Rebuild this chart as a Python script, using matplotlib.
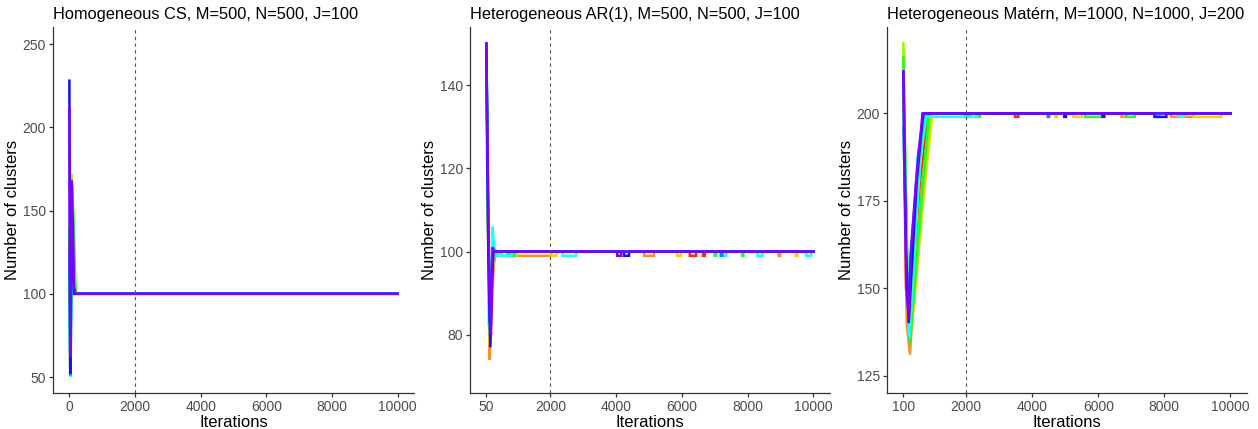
import matplotlib
matplotlib.use("Agg")
import matplotlib.pyplot as plt

plt.rcParams["font.family"] = ["Liberation Sans", "DejaVu Sans"]

# rainbow palette, first chain drawn first, purple last (on top)
CHAIN_COLORS = ["#FF2A00", "#FF9020", "#FFD000", "#90FF00", "#20FF20",
                "#00FF99", "#20FFFF", "#0090FF", "#1010FF", "#8000FF"]

TITLES = ["Homogeneous CS, M=500, N=500, J=100",
          "Heterogeneous AR(1), M=500, N=500, J=100",
          "Heterogeneous Matérn, M=1000, N=1000, J=200"]

LAST_ITER = 10000
BURN_IN = 2000
TARGETS = [100, 100, 200]

X_TICKS = [[0, 2000, 4000, 6000, 8000, 10000],
           [50, 2000, 4000, 6000, 8000, 10000],
           [100, 2000, 4000, 6000, 8000, 10000]]
Y_TICKS = [[50, 100, 150, 200, 250],
           [80, 100, 120, 140],
           [125, 150, 175, 200]]
X_LIMS = [(-500, 10500), (-447, 10497), (-395, 10495)]
Y_LIMS = [(40.4, 260.2), (66, 154), (120, 224.7)]

# burn-in traces (iteration, number of clusters), one list per chain
CS_BURN = [
    [(0, 130), (30, 60), (60, 140), (90, 110), (130, 102), (170, 100)],
    [(0, 95), (25, 55), (55, 125), (100, 108), (160, 100)],
    [(0, 120), (30, 52), (70, 150), (110, 104), (180, 100)],
    [(0, 105), (35, 58), (75, 172), (120, 130), (150, 115), (200, 100)],
    [(0, 140), (30, 62), (80, 165), (130, 145), (190, 100)],
    [(0, 115), (25, 57), (65, 158), (110, 120), (170, 100)],
    [(0, 90), (30, 50), (80, 135), (120, 115), (170, 100)],
    [(0, 125), (35, 51), (75, 120), (110, 105), (160, 100)],
    [(0, 228), (25, 52), (60, 160), (100, 120), (150, 100)],
    [(0, 211), (30, 62), (70, 168), (110, 140), (140, 104), (190, 100)],
]
CS_DIPS = [[], [], [], [], [], [], [], [], [], []]

AR_BURN = [
    [(50, 150), (90, 118), (130, 88), (170, 80), (230, 96), (300, 100)],
    [(50, 150), (100, 112), (150, 74), (200, 84), (280, 97), (350, 100)],
    [(50, 150), (90, 120), (140, 78), (200, 90), (290, 99), (340, 100)],
    [(50, 150), (80, 125), (130, 82), (190, 95), (260, 101), (330, 100)],
    [(50, 137), (100, 105), (150, 86), (210, 98), (290, 101), (350, 100)],
    [(50, 150), (110, 108), (160, 80), (230, 99), (300, 100)],
    [(50, 150), (90, 130), (140, 92), (190, 85), (240, 106), (300, 100)],
    [(50, 150), (100, 110), (150, 83), (200, 96), (260, 100)],
    [(50, 150), (110, 100), (170, 77), (220, 92), (270, 100)],
    [(50, 150), (100, 115), (150, 88), (190, 80), (240, 101), (290, 100)],
]
# intervals where a chain sits one cluster below the target
AR_DIPS = [
    [(6240, 6430), (6640, 6700)],
    [(400, 2030), (4850, 5150), (8940, 8990)],
    [(2030, 2180), (5850, 5970), (9460, 9510)],
    [(820, 970)],
    [(700, 900), (7000, 7040), (7830, 7870)],
    [(500, 760)],
    [(390, 820), (2370, 2790), (7200, 7350), (8300, 8450), (9780, 9930)],
    [(7180, 7230)],
    [(4240, 4390)],
    [(4030, 4150)],
]

MATERN_BURN = [
    [(100, 205), (180, 150), (280, 138), (330, 145), (600, 180), (850, 200)],
    [(100, 210), (200, 140), (300, 131), (360, 140), (650, 178), (900, 200)],
    [(100, 218), (220, 150), (400, 143), (700, 175), (980, 200)],
    [(100, 220), (190, 155), (350, 140), (650, 172), (930, 200)],
    [(100, 216), (200, 165), (300, 134), (600, 170), (880, 200)],
    [(100, 208), (250, 145), (320, 150), (650, 190), (820, 200)],
    [(100, 200), (200, 160), (280, 136), (600, 185), (780, 200)],
    [(100, 196), (220, 148), (300, 155), (540, 188), (720, 200)],
    [(100, 212), (180, 160), (260, 140), (500, 180), (700, 200)],
    [(100, 212), (190, 150), (270, 141), (320, 160), (500, 182), (680, 200)],
]
MATERN_DIPS = [
    [(1980, 2060), (3480, 3580)],
    [(2000, 2150), (6700, 6850), (8210, 8880)],
    [(4700, 4750), (5250, 5500), (8880, 9730)],
    [],
    [(2380, 2420), (5600, 6100), (6850, 7100)],
    [(7750, 7850)],
    [(785, 2300), (8430, 8600)],
    [(4470, 4510)],
    [(4970, 5020), (6130, 6180), (7700, 8060)],
    [],
]

PANELS = [(CS_BURN, CS_DIPS), (AR_BURN, AR_DIPS), (MATERN_BURN, MATERN_DIPS)]
AXES_BOXES = [[0.0421, 0.0839, 0.287, 0.853],
              [0.3736, 0.0839, 0.286, 0.853],
              [0.7051, 0.0839, 0.286, 0.853]]


def build_trace(burn, dips, level):
    xs = [p[0] for p in burn]
    ys = [p[1] for p in burn]
    for a, b in dips:
        xs += [a, a, b, b]
        ys += [level, level - 1, level - 1, level]
    xs.append(LAST_ITER)
    ys.append(level)
    return xs, ys


def style_axis(ax, i):
    for side in ("top", "right"):
        ax.spines[side].set_visible(False)
    for side in ("left", "bottom"):
        ax.spines[side].set_color("#333333")
        ax.spines[side].set_linewidth(0.9)
    ax.tick_params(colors="#333333", labelcolor="#4D4D4D", labelsize=10,
                   length=3, width=0.9, pad=2)
    ax.set_xticks(X_TICKS[i])
    ax.set_yticks(Y_TICKS[i])
    ax.set_xlim(*X_LIMS[i])
    ax.set_ylim(*Y_LIMS[i])
    ax.set_xlabel("Iterations", fontsize=12, labelpad=1)
    ax.set_ylabel("Number of clusters", fontsize=12, labelpad=2)
    ax.set_title(TITLES[i], loc="left", fontsize=11.8, pad=6)


def main():
    fig = plt.figure(figsize=(12.58, 4.29), dpi=100)
    for i, (burns, dips) in enumerate(PANELS):
        ax = fig.add_axes(AXES_BOXES[i])
        for c, (burn, dip) in enumerate(zip(burns, dips)):
            xs, ys = build_trace(burn, dip, TARGETS[i])
            ax.plot(xs, ys, color=CHAIN_COLORS[c], lw=1.8,
                    solid_joinstyle="miter")
        ax.axvline(BURN_IN, color="#555555", lw=0.8, linestyle=(0, (3, 3)))
        style_axis(ax, i)
    fig.savefig("out.png", dpi=100)
    plt.close(fig)


if __name__ == "__main__":
    main()
